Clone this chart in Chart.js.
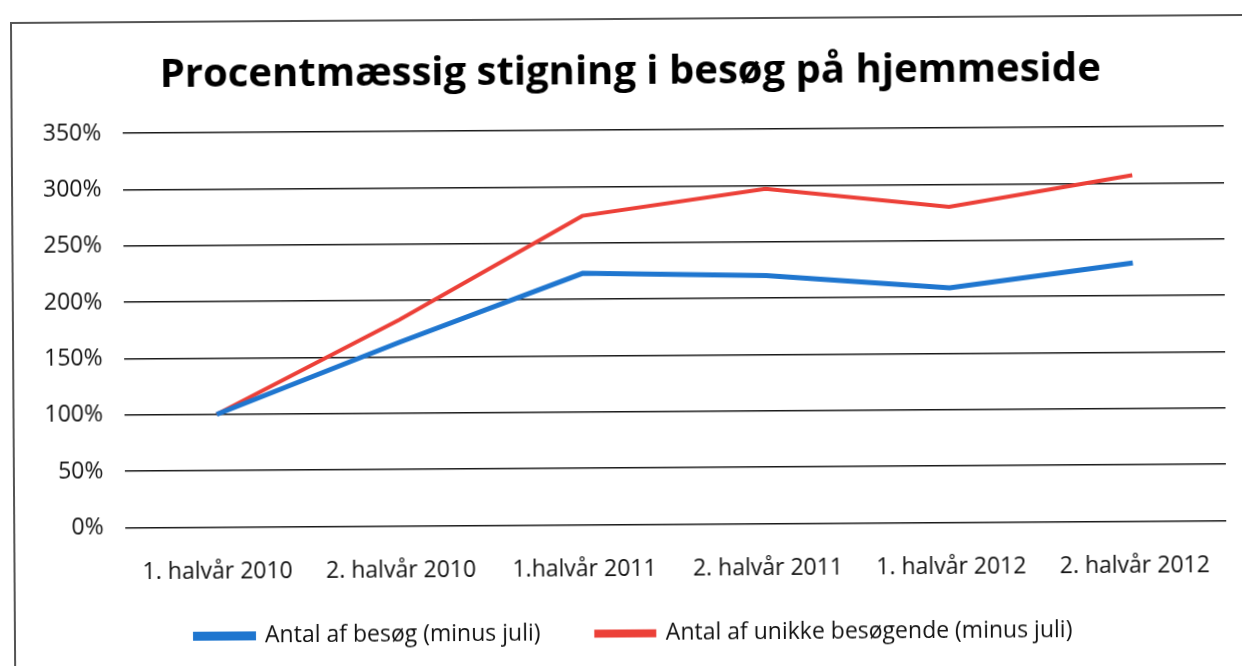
<!DOCTYPE html>
<html>
<head>
<meta charset="utf-8">
<script src="https://cdn.jsdelivr.net/npm/chart.js@4.4.1/dist/chart.umd.min.js"></script>
<style>
  html, body { margin: 0; padding: 0; background: #fff; overflow: hidden; }
  /* the reference is a slightly skewed scan, so the whole sheet is turned a little */
  #wrap {
    position: relative; width: 1242px; height: 666px;
    transform: rotate(-0.37deg); transform-origin: 621px 333px;
  }
  #frame {
    position: absolute; left: 12px; top: 18px; width: 1280px; height: 720px;
    border-left: 2px solid #555; border-top: 2px solid #555;
  }
  canvas { position: absolute; left: 0; top: 0; }
</style>
</head>
<body>
<div id="wrap">
  <div id="frame"></div>
  <canvas id="chart" width="1242" height="666"></canvas>
</div>
<script>
// Data
const categories = ['1. halvår 2010', '2. halvår 2010', '1.halvår 2011', '2. halvår 2011', '1. halvår 2012', '2. halvår 2012'];
const visits = [100, 163, 223, 220, 208, 229];
const uniqueVisitors = [100, 183, 274, 297, 280, 307];
const seriesNames = ['Antal af besøg (minus juli)', 'Antal af unikke besøgende (minus juli)'];
const chartTitle = 'Procentmæssig stigning i besøg på hjemmeside';

const fontFamily = "'Open Sans', 'Noto Sans', sans-serif";
const blue = '#1f76cf';
const red = '#ec4038';

Chart.defaults.font.family = fontFamily;
Chart.defaults.color = '#111';

new Chart(document.getElementById('chart'), {
    type: 'line',
    data: {
        labels: categories,
        datasets: [
            {
                label: seriesNames[0],
                data: visits,
                borderColor: blue,
                backgroundColor: blue,
                borderWidth: 5,
                pointRadius: 0,
                tension: 0
            },
            {
                label: seriesNames[1],
                data: uniqueVisitors,
                borderColor: red,
                backgroundColor: red,
                borderWidth: 4,
                pointRadius: 0,
                tension: 0
            }
        ]
    },
    options: {
        responsive: false,
        animation: false,
        layout: {
            padding: { top: 49, right: 17, bottom: 11, left: 39 }
        },
        plugins: {
            title: {
                display: true,
                text: chartTitle,
                color: '#000',
                font: { size: 40, weight: 'bold' },
                padding: { top: 0, bottom: 33 }
            },
            legend: {
                display: true,
                position: 'bottom',
                labels: {
                    boxWidth: 58,
                    boxHeight: 4,
                    padding: 8,
                    color: '#111',
                    font: { size: 23 },
                    // wider gap between the two entries, as in the scan
                    generateLabels: function(chart) {
                        const items = Chart.defaults.plugins.legend.labels.generateLabels(chart);
                        items[0].text += '\u00a0'.repeat(8);
                        return items;
                    }
                }
            },
            tooltip: { enabled: false }
        },
        scales: {
            x: {
                offset: true,
                grid: { display: false, drawTicks: false },
                border: { display: false },
                ticks: {
                    padding: 31,
                    color: '#111',
                    font: { size: 23 },
                    maxRotation: 0,
                    autoSkip: false
                }
            },
            y: {
                min: 0,
                max: 350,
                grid: { color: '#1a1a1a', lineWidth: 1.5, drawTicks: false },
                border: { display: false },
                ticks: {
                    stepSize: 50,
                    padding: 22,
                    color: '#111',
                    font: { size: 23 },
                    callback: function(value) {
                        return value + '%';
                    }
                },
                // labels may hang into the left padding so title and legend sit centred like the scan
                afterFit: function(axis) {
                    axis.width -= 17;
                }
            }
        }
    }
});
</script>
</body>
</html>
